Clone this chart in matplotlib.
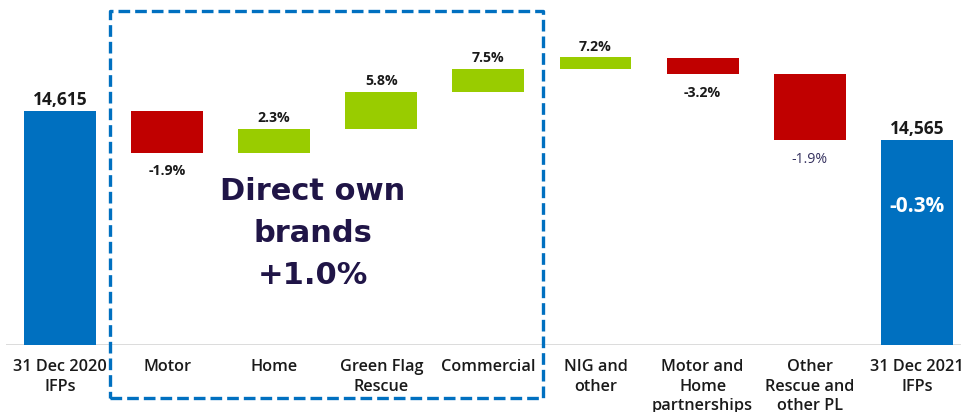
import matplotlib
matplotlib.use("Agg")
import matplotlib.pyplot as plt
from matplotlib.patches import Rectangle
from matplotlib.transforms import blended_transform_factory

# In-force policies (thousands): opening, movements by segment, closing
categories = [
    "31 Dec 2020\nIFPs", "Motor", "Home", "Green Flag\nRescue", "Commercial",
    "NIG and\nother", "Motor and\nHome\npartnerships", "Other\nRescue and\nother PL",
    "31 Dec 2021\nIFPs",
]
opening_ifps = 14615
closing_ifps = 14565
movements = [-72, 41, 63, 41, 19, -29, -113]
movement_pct = ["-1.9%", "2.3%", "5.8%", "7.5%", "7.2%", "-3.2%", "-1.9%"]
total_change = "-0.3%"
group_title = "Direct own\nbrands\n+1.0%"
axis_floor = 14212
axis_top = 14806

BLUE = "#0070C0"
RED = "#C00000"
GREEN = "#99CC00"
NAVY = "#201547"
TEXT = "#1a1a1a"

plt.rcParams["font.family"] = ["Open Sans", "DejaVu Sans"]

W, H = 962, 412
fig = plt.figure(figsize=(W / 100, H / 100), dpi=100)
ax = fig.add_axes([6 / W, 67 / H, 956 / W, 345 / H])

bar_w = 0.672

# opening total
ax.bar(0, opening_ifps - axis_floor, bottom=axis_floor, width=bar_w, color=BLUE, zorder=2)
ax.annotate(f"{opening_ifps:,}", (0, opening_ifps), xytext=(0, 4.3), textcoords="offset points",
            ha="center", va="baseline", fontsize=12.5, fontweight="bold", color=TEXT)

level = opening_ifps
for i, (d, pct) in enumerate(zip(movements, movement_pct), start=1):
    start, end = level, level + d
    ax.bar(i, abs(d), bottom=min(start, end), width=bar_w,
           color=GREEN if d > 0 else RED, zorder=2)
    if d > 0:
        ax.annotate(pct, (i, end), xytext=(0, 5), textcoords="offset points",
                    ha="center", va="baseline", fontsize=10.2, fontweight="bold", color=TEXT)
    else:
        last = i == len(movements)
        ax.annotate(pct, (i, end), xytext=(0, -8.4), textcoords="offset points",
                    ha="center", va="top", fontsize=10.2,
                    fontweight="normal" if last else "bold",
                    color="#34305e" if last else TEXT)
    level = end

# closing total
n = len(categories) - 1
ax.bar(n, closing_ifps - axis_floor, bottom=axis_floor, width=bar_w, color=BLUE, zorder=2)
ax.annotate(f"{closing_ifps:,}", (n, closing_ifps), xytext=(0, 4.6), textcoords="offset points",
            ha="center", va="baseline", fontsize=12.5, fontweight="bold", color=TEXT)
ax.text(n, 0.3864, total_change, transform=blended_transform_factory(ax.transData, ax.transAxes),
        ha="center", va="baseline", fontsize=15, fontweight="bold", color="white", zorder=3)

# baseline rule
ax.axhline(axis_floor, color="#d9d9d9", lw=1.3, zorder=1)

ax.set_xticks(range(len(categories)))
ax.set_xticklabels(categories, fontsize=11.7, fontweight="semibold", color=TEXT, linespacing=1.27)
ax.tick_params(axis="x", length=0, pad=10.3)
ax.set_yticks([])
for s in ax.spines.values():
    s.set_visible(False)
ax.set_xlim(-0.504, 8.422)
ax.set_ylim(axis_floor, axis_top)

# dashed frame around the direct own brands segments
frame_tr = blended_transform_factory(ax.transData, fig.transFigure)
frame = Rectangle((0.47, 14 / H), 4.51 - 0.47, (398 - 10.7) / H, transform=frame_tr,
                  fill=False, edgecolor=BLUE, lw=2.4, linestyle=(0, (3.5, 1.5)),
                  joinstyle="round", clip_on=False, zorder=4)
fig.add_artist(frame)

fig.text(313 / W, (H - 176.8) / H, group_title, ha="center", va="top",
         fontsize=22, fontweight="bold", color=NAVY, linespacing=1.58,
         family=["DejaVu Sans"])

fig.savefig("out.png", dpi=100)
